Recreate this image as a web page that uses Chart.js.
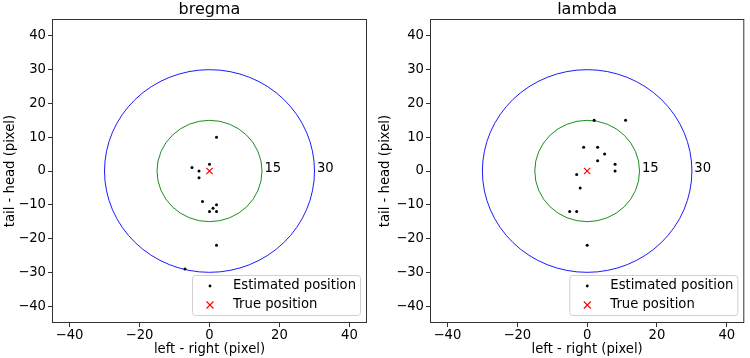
<!DOCTYPE html>
<html>
<head>
<meta charset="utf-8">
<script src="https://cdn.jsdelivr.net/npm/chart.js@4"></script>
<style>
  body { margin: 0; background: #fff; }
  #wrap { display: flex; width: 750px; height: 358px; }
  canvas { display: block; }
</style>
</head>
<body>
<div id="wrap">
  <canvas id="chartBregma" width="375" height="358"></canvas>
  <canvas id="chartLambda" width="375" height="358"></canvas>
</div>
<script>
// estimated positions
const bregmaX = [2, 0, -5, -3, -3, -2, 2, 1, 0, 2, 2, -7];
const bregmaY = [10, 2, 1, 0, -2, -9, -10, -11, -12, -12, -22, -29];
const lambdaX = [2, 11, -1, 3, 5, 3, 8, 8, -3, -2, -5, -3, 0];
const lambdaY = [15, 15, 7, 7, 5, 3, 2, 0, -1, -5, -12, -12, -22];
const trueX = [0];
const trueY = [0];
const radios = [15, 30];
const radioColores = ['green', 'blue'];
const xTicks = [-40, -20, 0, 20, 40];
const yTicks = [-40, -30, -20, -10, 0, 10, 20, 30, 40];

const fuente = 'DejaVu Sans';
const tam = 13.2;
const menos = v => String(v).replace('-', '\u2212');

function puntos(xs, ys) {
    return xs.map((x, i) => ({ x: x, y: ys[i] }));
}

const pluginExtras = {
    id: 'extras',
    beforeDatasetsDraw(chart) {
        const ctx = chart.ctx;
        const a = chart.chartArea;
        const sx = chart.scales.x, sy = chart.scales.y;
        const cx = sx.getPixelForValue(0), cy = sy.getPixelForValue(0);
        ctx.save();
        ctx.beginPath();
        ctx.rect(a.left, a.top, a.right - a.left, a.bottom - a.top);
        ctx.clip();
        radios.forEach((r, i) => {
            const rx = sx.getPixelForValue(r) - cx;
            const ry = cy - sy.getPixelForValue(r);
            ctx.beginPath();
            ctx.ellipse(cx, cy, rx, ry, 0, 0, Math.PI * 2);
            ctx.strokeStyle = radioColores[i];
            ctx.lineWidth = 0.9;
            ctx.stroke();
        });
        ctx.restore();
    },
    afterDraw(chart, args, opts) {
        const ctx = chart.ctx;
        const a = chart.chartArea;
        const sx = chart.scales.x, sy = chart.scales.y;
        ctx.save();
        // marco
        ctx.strokeStyle = '#333';
        ctx.lineWidth = 1;
        ctx.strokeRect(a.left + 0.5, a.top + 0.5, a.right - a.left - 1, a.bottom - a.top - 1);

        // etiquetas de los circulos
        ctx.fillStyle = '#000';
        ctx.font = tam + 'px "' + fuente + '"';
        ctx.textAlign = 'left';
        ctx.textBaseline = 'alphabetic';
        radios.forEach(r => {
            ctx.fillText(String(r), sx.getPixelForValue(r + 0.7), sy.getPixelForValue(0) + 1);
        });

        // titulo
        ctx.font = '16px "' + fuente + '"';
        ctx.textAlign = 'center';
        ctx.textBaseline = 'bottom';
        ctx.fillText(opts.titulo, (a.left + a.right) / 2, a.top - 1);

        // leyenda
        const w = 168, h = 40;
        const bx = a.right - 7 - w, by = a.bottom - 8 - h;
        ctx.beginPath();
        ctx.roundRect(bx + 0.5, by + 0.5, w, h, 3);
        ctx.fillStyle = 'rgba(255,255,255,0.8)';
        ctx.fill();
        ctx.strokeStyle = '#d0d0d0';
        ctx.stroke();

        const mx = bx + 18;
        const r1 = by + 11, r2 = by + 30;
        ctx.beginPath();
        ctx.arc(mx, r1, 1.4, 0, Math.PI * 2);
        ctx.fillStyle = '#000';
        ctx.fill();
        ctx.beginPath();
        ctx.moveTo(mx - 3.5, r2 - 3.5); ctx.lineTo(mx + 3.5, r2 + 3.5);
        ctx.moveTo(mx + 3.5, r2 - 3.5); ctx.lineTo(mx - 3.5, r2 + 3.5);
        ctx.strokeStyle = 'red';
        ctx.lineWidth = 1.1;
        ctx.stroke();

        ctx.fillStyle = '#000';
        ctx.font = tam + 'px "' + fuente + '"';
        ctx.textAlign = 'left';
        ctx.textBaseline = 'middle';
        ctx.fillText('Estimated position', bx + 41, r1);
        ctx.fillText('True position', bx + 41, r2);
        ctx.restore();
    }
};

function crear_grafico(idCanvas, titulo, xs, ys, anchoY, padDer) {
    const grafica = document.getElementById(idCanvas);
    return new Chart(grafica, {
        type: 'scatter',
        data: {
            datasets: [
                {
                    label: 'Estimated position',
                    data: puntos(xs, ys),
                    pointStyle: 'circle',
                    pointRadius: 1.5,
                    backgroundColor: '#000',
                    borderWidth: 0
                },
                {
                    label: 'True position',
                    data: puntos(trueX, trueY),
                    pointStyle: 'crossRot',
                    pointRadius: 4.5,
                    borderColor: 'red',
                    borderWidth: 1.2
                }
            ]
        },
        options: {
            responsive: false,
            animation: false,
            layout: { padding: { top: 19, right: padDer, left: 0, bottom: 0 } },
            plugins: {
                legend: { display: false },
                tooltip: { enabled: false },
                title: { display: false },
                extras: { titulo: titulo }
            },
            scales: {
                x: {
                    type: 'linear',
                    min: -45,
                    max: 45,
                    afterBuildTicks: s => { s.ticks = xTicks.map(v => ({ value: v })); },
                    afterFit: s => { s.height = 35; },
                    grid: { drawOnChartArea: false, drawTicks: true, tickLength: 4, color: '#333' },
                    border: { display: false },
                    ticks: {
                        color: '#000',
                        padding: 1,
                        maxRotation: 0,
                        font: { family: fuente, size: tam },
                        callback: v => menos(v)
                    },
                    title: {
                        display: true,
                        text: 'left - right (pixel)',
                        color: '#000',
                        font: { family: fuente, size: tam },
                        padding: { top: 0, bottom: 1 }
                    }
                },
                y: {
                    type: 'linear',
                    min: -45,
                    max: 45,
                    afterBuildTicks: s => { s.ticks = yTicks.map(v => ({ value: v })); },
                    afterFit: s => { s.width = anchoY; },
                    grid: { drawOnChartArea: false, drawTicks: true, tickLength: 4, color: '#333' },
                    border: { display: false },
                    ticks: {
                        color: '#000',
                        padding: 2,
                        font: { family: fuente, size: tam },
                        callback: v => menos(v)
                    },
                    title: {
                        display: true,
                        text: 'tail - head (pixel)',
                        color: '#000',
                        font: { family: fuente, size: tam },
                        padding: { top: 3, bottom: 0 }
                    }
                }
            }
        },
        plugins: [pluginExtras]
    });
}

crear_grafico('chartBregma', 'bregma', bregmaX, bregmaY, 52, 8);
crear_grafico('chartLambda', 'lambda', lambdaX, lambdaY, 55, 3);
</script>
</body>
</html>
